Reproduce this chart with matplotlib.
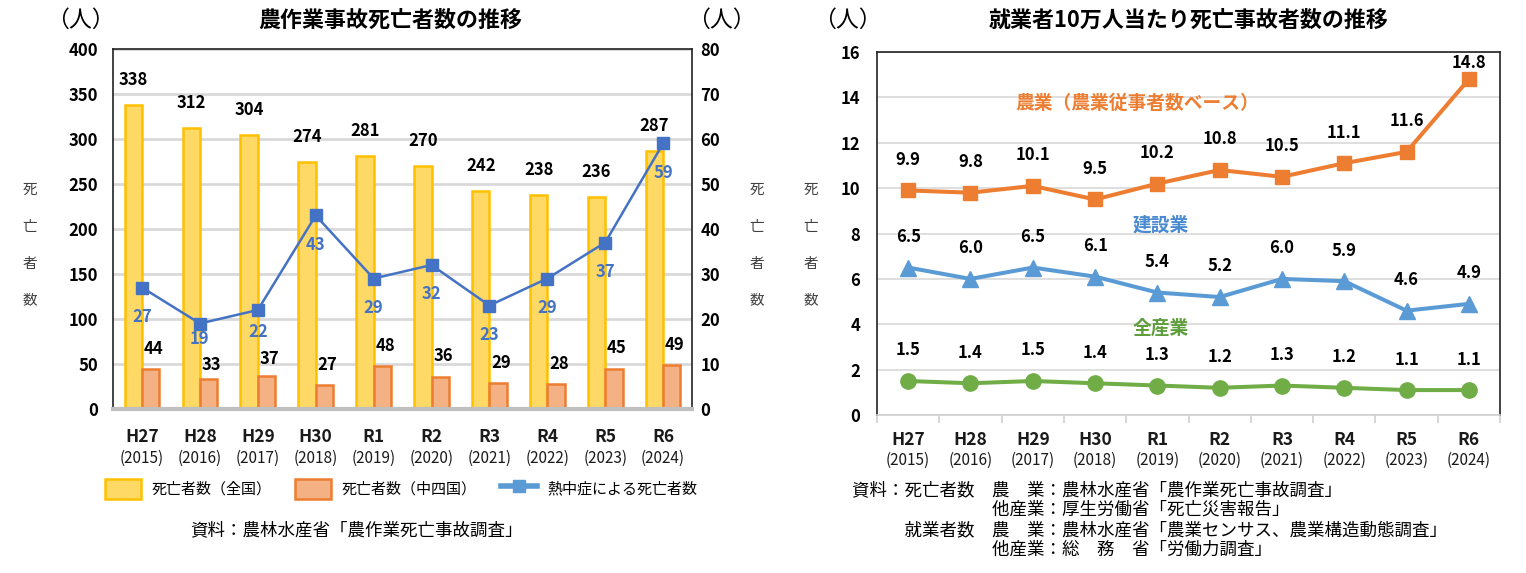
import matplotlib
matplotlib.use('Agg')
import matplotlib.pyplot as plt
from matplotlib.patches import Patch
from matplotlib.lines import Line2D
import numpy as np

plt.rcParams['font.family'] = ['Noto Sans CJK JP', 'DejaVu Sans']

# data
era_labels = ['H27', 'H28', 'H29', 'H30', 'R1', 'R2', 'R3', 'R4', 'R5', 'R6']
year_labels = ['2015', '2016', '2017', '2018', '2019', '2020', '2021', '2022', '2023', '2024']
deaths_all = [338, 312, 304, 274, 281, 270, 242, 238, 236, 287]
deaths_chushikoku = [44, 33, 37, 27, 48, 36, 29, 28, 45, 49]
deaths_heat = [27, 19, 22, 43, 29, 32, 23, 29, 37, 59]
rate_agri = [9.9, 9.8, 10.1, 9.5, 10.2, 10.8, 10.5, 11.1, 11.6, 14.8]
rate_constr = [6.5, 6.0, 6.5, 6.1, 5.4, 5.2, 6.0, 5.9, 4.6, 4.9]
rate_all = [1.5, 1.4, 1.5, 1.4, 1.3, 1.2, 1.3, 1.2, 1.1, 1.1]

YEL_FILL, YEL_EDGE = '#FFD966', '#FFC000'
ORG_FILL, ORG_EDGE = '#F4B183', '#ED7D31'
BLUE = '#4472C4'
GRID = '#D9D9D9'

fig = plt.figure(figsize=(15.26, 5.73), dpi=100)
x = np.arange(len(era_labels))


def year_ticks(ax, y1, y2):
    ax.set_xticks(x)
    ax.set_xticklabels([])
    tr = ax.get_xaxis_transform()
    for i in range(len(x)):
        ax.text(x[i], y1, era_labels[i], transform=tr, ha='center', va='center',
                fontsize=12.5, fontweight='bold', color='#1a1a1a')
        ax.text(x[i], y2, '(' + year_labels[i] + ')', transform=tr, ha='center', va='center',
                fontsize=11, color='#1a1a1a')


def vertical_label(xp, yc):
    for i, ch in enumerate('死亡者数'):
        fig.text(xp, yc + (1.5 - i) * 37 / 573, ch, ha='center', va='center',
                 fontsize=10.5, color='#404040')


# ---- left chart ----
ax = fig.add_axes([0.0741, 0.2862, 0.3794, 0.6283])
w = 0.3
ax.bar(x - w / 2, deaths_all, w, color=YEL_FILL, edgecolor=YEL_EDGE, linewidth=1.8, zorder=2)
ax.bar(x + w / 2, deaths_chushikoku, w, color=ORG_FILL, edgecolor=ORG_EDGE, linewidth=1.8, zorder=2)
ax.set_xlim(-0.5, 9.5)
ax.set_ylim(0, 400)
ax.set_yticks(range(0, 401, 50))
ax.yaxis.grid(True, color=GRID, linewidth=2)
ax.set_axisbelow(True)
ax.tick_params(axis='both', length=0)
ax.tick_params(axis='y', pad=11, labelsize=12)
for lab in ax.get_yticklabels():
    lab.set_fontweight('bold')
for s in ['left', 'top', 'right']:
    ax.spines[s].set_color('#222222')
    ax.spines[s].set_linewidth(1.2)
ax.spines['bottom'].set_color('#BFBFBF')
ax.spines['bottom'].set_linewidth(3)
year_ticks(ax, -0.078, -0.136)

# label nudges where labels would collide (as in the original)
bar_label_dy = {1: 10, 2: 12}
heat_label_dy = {1: -11, 2: -16}

for i, v in enumerate(deaths_all):
    ax.annotate(str(v), (x[i] - w / 2, v), xytext=(0, 18), textcoords='offset points',
                ha='center', va='center', fontsize=12, fontweight='bold')
for i, v in enumerate(deaths_chushikoku):
    ax.annotate(str(v), (x[i] + w / 2, v), xytext=(2, bar_label_dy.get(i, 14.5)),
                textcoords='offset points', ha='center', va='center', fontsize=12,
                fontweight='bold')

ax2 = ax.twinx()
ax2.plot(x, deaths_heat, color=BLUE, linewidth=1.8, marker='s', markersize=8.5, zorder=3)
ax2.set_ylim(0, 80)
ax2.set_yticks(range(0, 81, 10))
ax2.tick_params(axis='y', length=0, pad=6, labelsize=12)
for lab in ax2.get_yticklabels():
    lab.set_fontweight('bold')
for s in ax2.spines.values():
    s.set_visible(False)
for i, v in enumerate(deaths_heat):
    ax2.annotate(str(v), (x[i], v), xytext=(0, heat_label_dy.get(i, -21)),
                 textcoords='offset points', ha='center', va='center', fontsize=12,
                 fontweight='bold', color=BLUE)

fig.text(390 / 1526, 1 - 20 / 573, '農作業事故死亡者数の推移', ha='center', va='center',
         fontsize=15.8, fontweight='bold')
fig.text(80 / 1526, 1 - 20 / 573, '（人）', ha='center', va='center', fontsize=16.5)
fig.text(721 / 1526, 1 - 20 / 573, '（人）', ha='center', va='center', fontsize=16.5)
vertical_label(30 / 1526, 1 - 245 / 573)
vertical_label(757 / 1526, 1 - 245 / 573)

handles = [Patch(facecolor=YEL_FILL, edgecolor=YEL_EDGE, linewidth=1.8),
           Patch(facecolor=ORG_FILL, edgecolor=ORG_EDGE, linewidth=1.8),
           Line2D([0], [0], color='#5B9BD5', linewidth=4, marker='s', markersize=8)]
fig.legend(handles, ['死亡者数（全国）', '死亡者数（中四国）', '熱中症による死亡者数'],
           loc='center', bbox_to_anchor=(401 / 1526, 1 - 489 / 573), ncol=3, frameon=False,
           fontsize=10.8, handlelength=2.4, handleheight=1.7, handletextpad=0.7,
           columnspacing=1.6)
fig.text(190 / 1526, 1 - 530 / 573, '資料：農林水産省「農作業死亡事故調査」', ha='left',
         va='center', fontsize=12.6)

# ---- right chart ----
bx = fig.add_axes([0.5747, 0.2757, 0.4083, 0.6335])
C_AGRI, C_CON, C_ALL = '#ED7D31', '#5B9BD5', '#70AD47'
bx.plot(x, rate_agri, color=C_AGRI, linewidth=2.9, marker='s', markersize=10.5, zorder=3)
bx.plot(x, rate_constr, color=C_CON, linewidth=2.9, marker='^', markersize=12, zorder=3)
bx.plot(x, rate_all, color=C_ALL, linewidth=2.9, marker='o', markersize=11, zorder=3)
bx.set_xlim(-0.5, 9.5)
bx.set_ylim(0, 16)
bx.set_yticks(range(0, 17, 2))
bx.yaxis.grid(True, color=GRID, linewidth=1.2)
bx.set_axisbelow(True)
bx.tick_params(axis='y', length=0, pad=12, labelsize=12)
for lab in bx.get_yticklabels():
    lab.set_fontweight('bold')
bx.set_xticks(np.arange(-0.5, 10, 1), minor=True)
bx.tick_params(axis='x', which='major', length=0)
bx.tick_params(axis='x', which='minor', length=6, color='#D0D0D0', width=1.2)
for s in ['left', 'top', 'right']:
    bx.spines[s].set_color('#222222')
    bx.spines[s].set_linewidth(1.2)
bx.spines['bottom'].set_color('#D0D0D0')
bx.spines['bottom'].set_linewidth(1.2)
year_ticks(bx, -0.069, -0.124)

for series in (rate_agri, rate_constr, rate_all):
    for i, v in enumerate(series):
        off = 12 if (series is rate_agri and i == len(series) - 1) else 22
        bx.annotate(f'{v:.1f}', (x[i], v), xytext=(0, off), textcoords='offset points',
                    ha='center', va='center', fontsize=12, fontweight='bold')

bx.text(3.67, 13.75, '農業（農業従事者数ベース）', ha='center', va='center',
        fontsize=13.5, fontweight='bold', color=C_AGRI)
bx.text(4.05, 8.37, '建設業', ha='center', va='center', fontsize=13.5,
        fontweight='bold', color='#4A8AD0')
bx.text(4.05, 3.83, '全産業', ha='center', va='center', fontsize=13.5,
        fontweight='bold', color='#5E9E3A')

fig.text(1189 / 1526, 1 - 20 / 573, '就業者10万人当たり死亡事故者数の推移', ha='center',
         va='center', fontsize=15.8, fontweight='bold')
fig.text(847 / 1526, 1 - 20 / 573, '（人）', ha='center', va='center', fontsize=16.5)
vertical_label(811 / 1526, 1 - 245 / 573)

src = ('資料：死亡者数　農　業：農林水産省「農作業死亡事故調査」\n'
       '　　　　　　　　他産業：厚生労働省「死亡災害報告」\n'
       '　　　就業者数　農　業：農林水産省「農業センサス、農業構造動態調査」\n'
       '　　　　　　　　他産業：総　務　省「労働力調査」')
fig.text(852 / 1526, 1 - 520 / 573, src, ha='left', va='center', fontsize=12.6,
         linespacing=1.15)

plt.savefig('out.png', dpi=100, facecolor='white')
